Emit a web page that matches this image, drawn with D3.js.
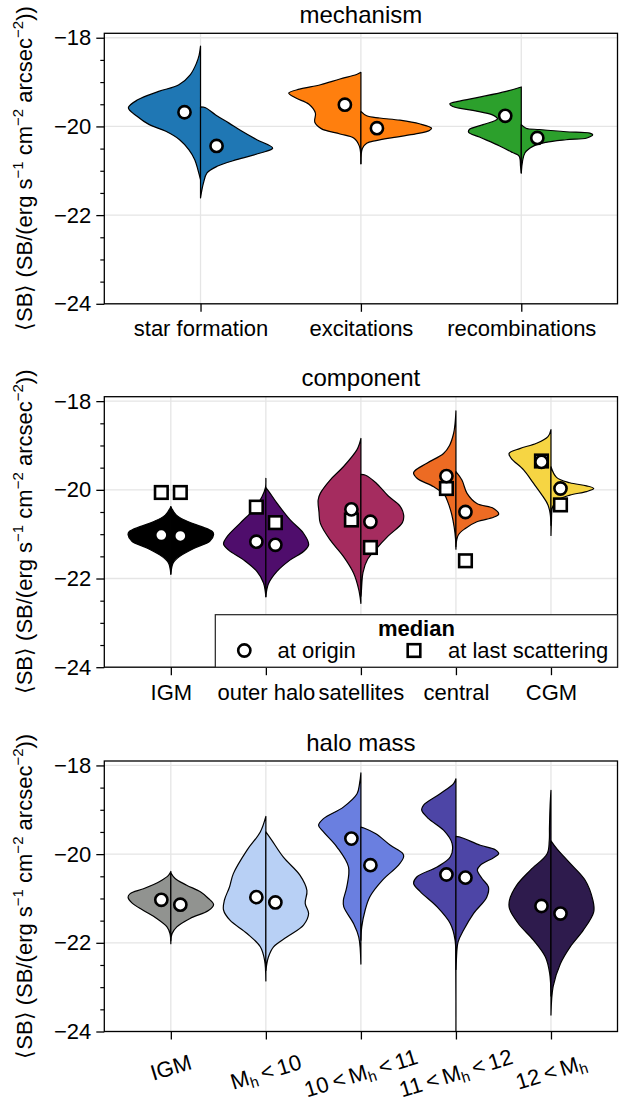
<!DOCTYPE html>
<html>
<head>
<meta charset="utf-8">
<script src="https://cdn.jsdelivr.net/npm/d3@7"></script>
<style>
  body { margin: 0; background: #fff; }
  svg text { font-family: "Liberation Sans", Arial, sans-serif; fill: #000; }
</style>
</head>
<body>
<div id="chart"></div>
<script>
// ---- data ----
// each violin half: [value, relative half-width]
const mechCats = ["star formation", "excitations", "recombinations"];
const mechColors = ["#1f77b4", "#ff7f0e", "#2ca02c"];
const mechLeft = [
  [[-18.19,0],[-18.4,0.02],[-18.57,0.055],[-18.83,0.14],[-19.06,0.3],[-19.21,0.58],[-19.4,0.87],[-19.58,1],[-19.77,0.88],[-19.96,0.71],[-20.11,0.48],[-20.3,0.29],[-20.53,0.16],[-20.75,0.08],[-20.98,0.036],[-21.2,0]],
  [[-18.78,0],[-18.83,0.06],[-18.93,0.29],[-19.06,0.56],[-19.16,0.85],[-19.25,1],[-19.36,0.9],[-19.5,0.72],[-19.7,0.63],[-19.9,0.64],[-20.05,0.55],[-20.17,0.29],[-20.26,0.1],[-20.45,0.02],[-20.84,0]],
  [[-19.11,0],[-19.21,0.21],[-19.34,0.58],[-19.43,0.855],[-19.49,0.99],[-19.55,0.95],[-19.64,0.67],[-19.74,0.4],[-19.83,0.33],[-19.96,0.53],[-20.07,0.72],[-20.13,0.73],[-20.24,0.58],[-20.44,0.3],[-20.59,0.12],[-20.67,0.03],[-20.9,0.01],[-21.05,0]]
];
const mechRight = [
  [[-19.56,0],[-19.58,0.07],[-19.74,0.21],[-19.92,0.39],[-20.11,0.575],[-20.3,0.78],[-20.49,1],[-20.6,0.83],[-20.75,0.5],[-20.9,0.23],[-21.05,0.09],[-21.28,0.04],[-21.61,0]],
  [[-19.66,0],[-19.76,0.08],[-19.81,0.26],[-19.86,0.54],[-19.94,0.81],[-20.04,0.98],[-20.09,0.95],[-20.17,0.76],[-20.24,0.49],[-20.32,0.21],[-20.38,0.08],[-20.5,0.02],[-20.84,0]],
  [[-19.96,0],[-20.04,0.065],[-20.07,0.25],[-20.12,0.62],[-20.15,0.95],[-20.19,0.99],[-20.26,0.91],[-20.3,0.62],[-20.36,0.34],[-20.45,0.16],[-20.6,0.05],[-21.05,0]]
];
const mechMedLeft = [-19.68, -19.51, -19.76];
const mechMedRight = [-20.44, -20.04, -20.26];

const compCats = ["IGM", "outer halo", "satellites", "central", "CGM"];
const compColors = ["#000000", "#4f0d6c", "#a52c5f", "#ed6b23", "#f6d543"];
const compLeft = [
  [[-20.38,0],[-20.57,0.13],[-20.72,0.41],[-20.83,0.72],[-20.94,0.97],[-21.01,1],[-21.16,0.91],[-21.31,0.56],[-21.5,0.21],[-21.65,0.055],[-21.9,0]],
  [[-19.74,0],[-19.95,0.01],[-20.16,0.094],[-20.45,0.29],[-20.75,0.6],[-21.06,0.91],[-21.22,0.99],[-21.36,0.87],[-21.58,0.52],[-21.84,0.21],[-22.1,0.055],[-22.41,0]],
  [[-18.84,0],[-18.95,0.03],[-19.1,0.094],[-19.48,0.41],[-19.78,0.72],[-20.08,0.95],[-20.23,1],[-20.5,0.98],[-20.75,0.95],[-21.13,0.72],[-21.5,0.41],[-21.88,0.17],[-22.25,0.05],[-22.56,0]],
  [[-18.22,0],[-18.5,0.02],[-18.73,0.055],[-19,0.15],[-19.18,0.29],[-19.4,0.68],[-19.61,0.99],[-19.74,0.91],[-19.93,0.52],[-20.11,0.27],[-20.3,0.18],[-20.55,0.1],[-20.85,0.04],[-21.1,0.01],[-21.34,0]],
  [[-18.64,0],[-18.8,0.07],[-18.95,0.34],[-19.07,0.73],[-19.18,0.98],[-19.29,0.93],[-19.55,0.64],[-19.85,0.41],[-20.16,0.18],[-20.34,0.07],[-20.53,0.02],[-20.8,0]]
];
const compRight = [
  [[-20.38,0],[-20.57,0.13],[-20.72,0.41],[-20.83,0.72],[-20.94,0.97],[-21.01,1],[-21.16,0.91],[-21.31,0.56],[-21.5,0.21],[-21.65,0.055],[-21.9,0]],
  [[-19.95,0],[-20.05,0.08],[-20.3,0.26],[-20.68,0.57],[-20.98,0.88],[-21.24,1],[-21.39,0.88],[-21.58,0.57],[-21.84,0.26],[-22.12,0.06],[-22.41,0]],
  [[-19.65,0],[-19.67,0.11],[-19.84,0.35],[-20.14,0.64],[-20.36,0.91],[-20.57,1],[-20.74,0.97],[-21.04,0.64],[-21.34,0.35],[-21.56,0.16],[-21.86,0.05],[-22.31,0.01],[-22.4,0]],
  [[-19.59,0],[-19.78,0.14],[-20.08,0.26],[-20.31,0.49],[-20.42,0.88],[-20.55,1],[-20.62,0.88],[-20.72,0.49],[-20.87,0.22],[-21.02,0.055],[-21.28,0]],
  [[-19.48,0],[-19.72,0.13],[-19.84,0.44],[-19.91,0.83],[-19.97,1],[-20.04,0.83],[-20.12,0.44],[-20.23,0.16],[-20.38,0.04],[-20.75,0.01],[-21.03,0]]
];
const compOriginLeft = [-21.02, -21.17, -20.44, -19.69, -19.37];
const compOriginRight = [-21.04, -21.24, -20.72, -20.5, -19.97];
const compLastLeft = [-20.06, -20.39, -20.68, -19.97, -19.35];
const compLastRight = [-20.06, -20.74, -21.3, -21.6, -20.34];

const haloCats = ["IGM", "M_h < 10", "10 < M_h < 11", "11 < M_h < 12", "12 < M_h"];
const haloColors = ["#919390", "#b8d0f5", "#6a7fe0", "#4d45a6", "#2e1b4d"];
const haloLeft = [
  [[-20.39,0],[-20.48,0.055],[-20.61,0.25],[-20.78,0.64],[-20.89,0.95],[-20.97,1],[-21.1,0.91],[-21.27,0.64],[-21.45,0.33],[-21.64,0.09],[-21.79,0.02],[-22.02,0]],
  [[-19.15,0],[-19.5,0.13],[-19.91,0.44],[-20.44,0.76],[-20.74,0.85],[-21.04,0.97],[-21.26,0.99],[-21.49,0.84],[-21.79,0.44],[-22.09,0.13],[-22.39,0.03],[-22.86,0]],
  [[-18.17,0],[-18.4,0.03],[-18.64,0.09],[-18.94,0.41],[-19.2,0.875],[-19.35,0.99],[-19.5,0.875],[-19.84,0.56],[-20.29,0.29],[-20.74,0.33],[-21.04,0.41],[-21.19,0.4],[-21.57,0.17],[-21.87,0.05],[-22.48,0]],
  [[-18.3,0],[-18.41,0.055],[-18.64,0.37],[-18.9,0.76],[-19.01,0.8],[-19.2,0.64],[-19.46,0.29],[-19.76,0.09],[-20.06,0.13],[-20.29,0.44],[-20.51,0.91],[-20.66,0.99],[-20.85,0.83],[-21.19,0.44],[-21.57,0.13],[-21.94,0.02],[-22.4,0.005],[-24.4,0]],
  [[-18.56,0],[-18.9,0.02],[-19.4,0.035],[-19.7,0.04],[-19.99,0.09],[-20.36,0.48],[-20.7,0.8],[-21.04,0.97],[-21.23,0.97],[-21.57,0.76],[-21.94,0.41],[-22.32,0.13],[-22.69,0.03],[-23.2,0]]
];
const haloRight = [
  [[-20.42,0],[-20.55,0.1],[-20.7,0.37],[-20.85,0.69],[-21,0.88],[-21.14,1],[-21.27,0.88],[-21.45,0.45],[-21.64,0.14],[-21.79,0.03],[-21.95,0]],
  [[-19.5,0],[-19.69,0.14],[-20.07,0.41],[-20.48,0.8],[-20.82,0.96],[-21.11,0.92],[-21.34,1],[-21.6,0.88],[-21.87,0.49],[-22.09,0.18],[-22.32,0.06],[-22.62,0]],
  [[-19.39,0],[-19.41,0.07],[-19.54,0.35],[-19.8,0.69],[-19.99,0.98],[-20.06,1],[-20.25,0.88],[-20.59,0.5],[-20.96,0.21],[-21.26,0.1],[-21.64,0.02],[-21.94,0]],
  [[-19.6,0],[-19.63,0.14],[-19.8,0.57],[-19.9,0.92],[-19.99,1],[-20.08,0.88],[-20.25,0.57],[-20.36,0.5],[-20.55,0.61],[-20.74,0.76],[-20.97,0.72],[-21.34,0.41],[-21.71,0.18],[-21.98,0.05],[-22.39,0.01],[-22.6,0]],
  [[-19.7,0],[-19.88,0.14],[-20.21,0.45],[-20.59,0.8],[-21.04,0.98],[-21.3,1],[-21.71,0.76],[-22.09,0.45],[-22.47,0.22],[-22.99,0.05],[-23.63,0]]
];
const haloMedLeft = [-21.03, -20.97, -19.65, -20.46, -21.17];
const haloMedRight = [-21.14, -21.09, -20.25, -20.53, -21.34];

const yMajor = [-24, -22, -20, -18];
const yLabelParts = [["\u27E8SB\u27E9 (SB/(erg s", 0], ["\u22121", 1], [" cm", 0], ["\u22122", 1], [" arcsec", 0], ["\u22122", 1], ["))", 0]];

// ---- layout ----
const W = 640, H = 1105;
const X0 = 104.3, X1 = 617.5, PH = 270.5;
const FS = 22;
const R = 6.1, SQ = 12.6;

const svg = d3.select("#chart").append("svg")
  .attr("width", W)
  .attr("height", H);

function addLabel(text, s) {
  // "M_h" -> M with subscript h, thin spaces like in math mode
  const bits = s.replace(/ /g, "\u2009").split("M_h");
  bits.forEach((b, k) => {
    if (b) text.append("tspan").text(b);
    if (k < bits.length - 1) {
      text.append("tspan").text("M");
      text.append("tspan").text("h").attr("font-size", FS * 0.68).attr("dy", 4);
      text.append("tspan").text("\u200B").attr("dy", -4);
    }
  });
}

function panel(cfg) {
  const n = cfg.cats.length;
  const pad = n === 3 ? 0.6 : 0.7;
  const x = d3.scaleLinear().domain([1 - pad, n + pad]).range([X0, X1]);
  const y = d3.scaleLinear().domain([-24, -17.9]).range([cfg.top + PH, cfg.top]);
  const bw = x(2) - x(1);
  const bottom = cfg.top + PH;
  const g = svg.append("g");

  g.append("clipPath").attr("id", "clip" + cfg.id)
    .append("rect")
    .attr("x", X0).attr("y", cfg.top)
    .attr("width", X1 - X0).attr("height", PH);

  // grid
  const grid = g.append("g").attr("stroke", "#e5e5e5").attr("stroke-width", 1.3);
  grid.selectAll(".gx").data(d3.range(1, n + 1)).join("line").attr("class", "gx")
    .attr("x1", d => x(d)).attr("x2", d => x(d))
    .attr("y1", cfg.top).attr("y2", bottom);
  grid.selectAll(".gy").data(yMajor).join("line").attr("class", "gy")
    .attr("x1", X0).attr("x2", X1)
    .attr("y1", d => y(d)).attr("y2", d => y(d));

  // violins
  const line = d3.line().curve(d3.curveCatmullRom.alpha(0.5));
  const vg = g.append("g").attr("clip-path", "url(#clip" + cfg.id + ")");
  cfg.cats.forEach((c, i) => {
    [[cfg.left[i], -1], [cfg.right[i], 1]].forEach(([prof, s]) => {
      const pts = prof.map(d => [x(i + 1) + s * d[1] * 0.45 * bw, y(d[0])]);
      vg.append("path")
        .attr("d", line(pts) + "Z")
        .attr("fill", cfg.colors[i])
        .attr("stroke", "#000")
        .attr("stroke-width", 1.2)
        .attr("stroke-linejoin", "round");
    });
  });

  // medians
  const mg = g.append("g").attr("fill", "#fff").attr("stroke", "#000").attr("stroke-width", 2.6);
  const off = 0.1;
  if (cfg.sqLeft) {
    [[cfg.sqLeft, -1], [cfg.sqRight, 1]].forEach(([vals, s]) => {
      mg.selectAll(null).data(vals).join("rect")
        .attr("x", (d, i) => x(i + 1 + s * off) - SQ / 2)
        .attr("y", d => y(d) - SQ / 2)
        .attr("width", SQ).attr("height", SQ);
    });
  }
  [[cfg.medLeft, -1], [cfg.medRight, 1]].forEach(([vals, s]) => {
    mg.selectAll(null).data(vals).join("circle")
      .attr("cx", (d, i) => x(i + 1 + s * off))
      .attr("cy", d => y(d))
      .attr("r", R);
  });

  // axes
  const yAxis = d3.axisLeft(y).tickValues(yMajor).tickSize(8).tickPadding(5).tickFormat(d3.format("d"));
  g.append("g")
    .attr("transform", "translate(" + X0 + ",0)")
    .call(yAxis)
    .attr("font-size", FS).attr("font-family", null)
    .call(a => a.select(".domain").remove())
    .call(a => a.selectAll("line").attr("stroke-width", 1.3));

  const minor = d3.range(-23.5, -17.9, 0.5).filter(v => v % 2 !== 0);
  g.append("g")
    .attr("transform", "translate(" + X0 + ",0)")
    .call(d3.axisLeft(y).tickValues(minor).tickSize(4).tickFormat(""))
    .call(a => a.select(".domain").remove())
    .call(a => a.selectAll("line").attr("stroke-width", 1.2));

  const xAxis = d3.axisBottom(x).tickValues(d3.range(1, n + 1)).tickSize(8).tickPadding(9)
    .tickFormat(cfg.rotate ? "" : (i => cfg.cats[i - 1]));
  g.append("g")
    .attr("transform", "translate(0," + bottom + ")")
    .call(xAxis)
    .attr("font-size", FS).attr("font-family", null)
    .call(a => a.select(".domain").remove())
    .call(a => a.selectAll("line").attr("stroke-width", 1.3));

  if (cfg.rotate) {
    const ang = cfg.rotate * Math.PI / 180;
    cfg.cats.forEach((c, i) => {
      const t = g.append("text").attr("text-anchor", "middle").attr("font-size", FS);
      addLabel(t, c);
      const L = t.node().getComputedTextLength();
      const bh = L * Math.sin(ang) + 16 * Math.cos(ang);
      const cx = x(i + 1), cy = Math.min(bottom + 22 + bh / 2, H - 32);
      t.attr("transform", "translate(" + cx + "," + cy + ") rotate(" + (-cfg.rotate) + ")")
        .attr("dy", "0.35em");
    });
  }

  // frame
  g.append("rect")
    .attr("x", X0).attr("y", cfg.top)
    .attr("width", X1 - X0).attr("height", PH)
    .attr("fill", "none").attr("stroke", "#000").attr("stroke-width", 1.3);

  // title
  g.append("text")
    .attr("x", (X0 + X1) / 2).attr("y", cfg.top - 10.5)
    .attr("text-anchor", "middle")
    .attr("font-size", 24)
    .text(cfg.title);

  // y label
  const yl = g.append("text")
    .attr("transform", "translate(32," + (cfg.top + PH / 2) + ") rotate(-90)")
    .attr("text-anchor", "middle")
    .attr("font-size", FS);
  let up = false;
  yLabelParts.forEach(([s, sup]) => {
    const ts = yl.append("tspan").text(s);
    if (sup) { ts.attr("font-size", 15).attr("dy", -9); up = true; }
    else if (up) { ts.attr("dy", 9); up = false; }
  });

  return { g, x, y };
}

panel({ id: 1, top: 33.3, title: "mechanism", cats: mechCats, colors: mechColors,
  left: mechLeft, right: mechRight, medLeft: mechMedLeft, medRight: mechMedRight });

const p2 = panel({ id: 2, top: 396.7, title: "component", cats: compCats, colors: compColors,
  left: compLeft, right: compRight, medLeft: compOriginLeft, medRight: compOriginRight,
  sqLeft: compLastLeft, sqRight: compLastRight });

panel({ id: 3, top: 761, title: "halo mass", cats: haloCats, colors: haloColors,
  left: haloLeft, right: haloRight, medLeft: haloMedLeft, medRight: haloMedRight, rotate: 17 });

// legend in the component panel
const lg = p2.g.append("g");
const lx0 = 215.3, ly0 = 614.7, lx1 = X1, ly1 = 396.7 + PH;
lg.append("rect")
  .attr("x", lx0).attr("y", ly0)
  .attr("width", lx1 - lx0).attr("height", ly1 - ly0)
  .attr("fill", "#fff").attr("stroke", "#222").attr("stroke-width", 1.2);
lg.append("text")
  .attr("x", (lx0 + lx1) / 2).attr("y", 635.5)
  .attr("text-anchor", "middle")
  .attr("font-size", FS).attr("font-weight", "bold")
  .text("median");
lg.append("circle")
  .attr("cx", 244.3).attr("cy", 650.5).attr("r", R)
  .attr("fill", "#fff").attr("stroke", "#000").attr("stroke-width", 2.6);
lg.append("text").attr("x", 277.5).attr("y", 658).attr("font-size", FS).text("at origin");
lg.append("rect")
  .attr("x", 414 - SQ / 2).attr("y", 650.5 - SQ / 2).attr("width", SQ).attr("height", SQ)
  .attr("fill", "#fff").attr("stroke", "#000").attr("stroke-width", 2.6);
lg.append("text").attr("x", 448).attr("y", 658).attr("font-size", FS).text("at last scattering");
</script>
</body>
</html>
